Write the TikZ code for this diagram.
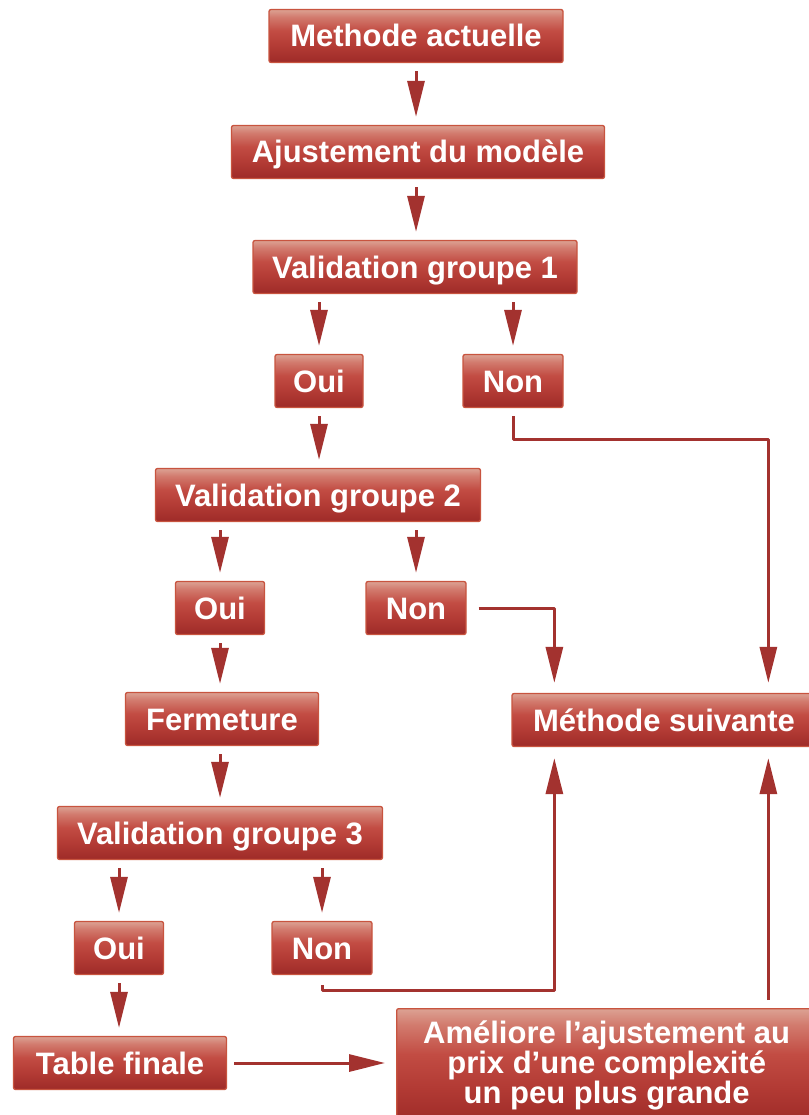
\documentclass[tikz,border=0pt]{standalone}
\usepackage{fontspec}
\setmainfont{Liberation Sans}
\usetikzlibrary{arrows.meta}
\definecolor{boxtop}{HTML}{DCA293}
\definecolor{boxlight}{HTML}{D27B6E}
\definecolor{boxmid}{HTML}{C24C43}
\definecolor{boxdark}{HTML}{B23A34}
\definecolor{boxbot}{HTML}{9E2B28}
\definecolor{boxline}{HTML}{C8543F}
\definecolor{arrowred}{HTML}{A3322F}
\pgfdeclareverticalshading{boxshade}{100bp}{color(0bp)=(boxbot); color(25bp)=(boxbot); color(40bp)=(boxdark); color(55bp)=(boxmid); color(68bp)=(boxlight); color(75bp)=(boxtop); color(100bp)=(boxtop)}
\begin{document}
\begin{tikzpicture}[x=1pt, y=-1pt, line join=round, >={Triangle[length=36pt,width=17pt]},
	box/.style={rectangle, rounded corners=2pt, draw=boxline, line width=1.3pt, shading=boxshade, text=white, font=\bfseries\fontsize{31}{28}\selectfont, inner sep=0pt, minimum height=53pt},
	onebox/.style={box, text height=22pt, text depth=0pt},
	link/.style={draw=arrowred, line width=3pt, ->, shorten <=8pt, shorten >=8pt}]
	\useasboundingbox (0,0) rectangle (808,1115);
	% colonne principale
	\node[onebox, minimum width=294pt] (actuelle) at (416,36) {Methode actuelle};
	\node[onebox, minimum width=373pt] (ajust) at (418,152) {Ajustement du modèle};
	\node[onebox, minimum width=324pt] (valid1) at (415,267) {Validation groupe 1};
	\node[onebox, minimum width=88pt] (oui1) at (319,381) {Oui};
	\node[onebox, minimum width=100pt] (non1) at (513,381) {Non};
	\node[onebox, minimum width=325pt] (valid2) at (318,495) {Validation groupe 2};
	\node[onebox, minimum width=89pt] (oui2) at (220,608) {Oui};
	\node[onebox, minimum width=100pt] (non2) at (416,608) {Non};
	\node[onebox, minimum width=193pt] (ferm) at (222,719) {Fermeture};
	\node[onebox, minimum width=325pt] (valid3) at (220,833) {Validation groupe 3};
	\node[onebox, minimum width=89pt] (oui3) at (119,948) {Oui};
	\node[onebox, minimum width=100pt] (non3) at (322,948) {Non};
	\node[onebox, minimum width=213pt] (table) at (120,1063) {Table finale};
	% colonne de droite
	\node[onebox, minimum width=304pt] (suivante) at (664,720) {Méthode suivante};
	\node[box, align=center, minimum width=420pt, minimum height=114pt, anchor=north west] (ameliore) at (396,1008) {Améliore l’ajustement au\\prix d’une complexité\\un peu plus grande};
	\coordinate (topA) at ([xshift=43pt]suivante.north west);
	\coordinate (topB) at ([xshift=257pt]suivante.north west);
	\coordinate (botA) at ([xshift=43pt]suivante.south west);
	\coordinate (botB) at ([xshift=257pt]suivante.south west);
	% fleches
	\draw[link] (actuelle.south) -- (actuelle.south |- ajust.north);
	\draw[link] (actuelle.south |- ajust.south) -- (actuelle.south |- valid1.north);
	\draw[link] (oui1.north |- valid1.south) -- (oui1.north);
	\draw[link] (non1.north |- valid1.south) -- (non1.north);
	\draw[link] (oui1.south) -- (oui1.south |- valid2.north);
	\draw[link] (oui2.north |- valid2.south) -- (oui2.north);
	\draw[link] (non2.north |- valid2.south) -- (non2.north);
	\draw[link] (oui2.south) -- (oui2.south |- ferm.north);
	\draw[link] (oui2.south |- ferm.south) -- (oui2.south |- valid3.north);
	\draw[link] (oui3.north |- valid3.south) -- (oui3.north);
	\draw[link] (non3.north |- valid3.south) -- (non3.north);
	\draw[link] (oui3.south) -- (oui3.south |- table.north);
	\draw[link, shorten <=7pt, shorten >=11pt] (table.east) -- (table.east -| ameliore.west);
	% vers la methode suivante
	\draw[link, shorten >=10pt] (non1.south) -- ++(0,31) -| (topB);
	\draw[link, shorten <=12pt, shorten >=10pt] (non2.east) -| (topA);
	\draw[link, shorten <=10pt, shorten >=11pt] (non3.south) -- ++(0,15) -| (botA);
	\draw[link, shorten >=11pt] (ameliore.north -| botB) -- (botB);
\end{tikzpicture}
\end{document}
